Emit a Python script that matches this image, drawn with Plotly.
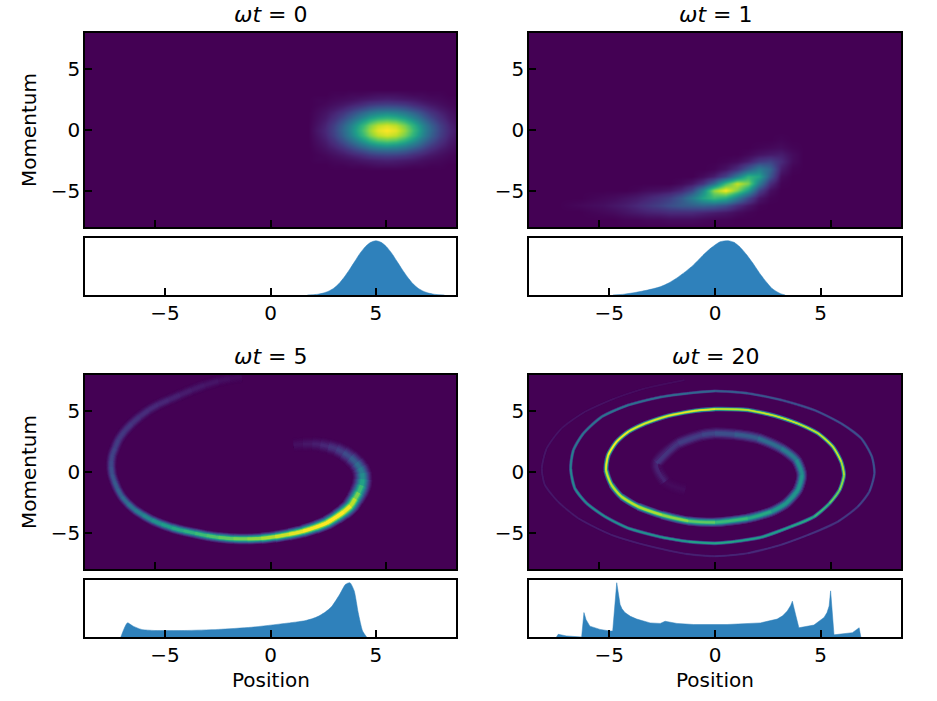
import numpy as np
import plotly.graph_objects as go
from plotly.colors import sample_colorscale

# ---------- values ----------
TITLES = ["0", "1", "5", "20"]
TICKS = [-5, 0, 5]

# panel wt=0: density grid (0-100)
G0_X0, G0_DX = 1.6, 0.38
G0_Y0, G0_DY = 3.36, -0.42
G0 = [
    [0]*19,
    [0,0,0,1,1,2,2,3,4,4,4,3,2,2,1,1,0,0,0],
    [0,1,1,2,3,4,6,7,8,9,8,7,6,4,3,2,1,1,0],
    [0,1,2,4,6,9,12,16,18,19,18,16,12,9,6,4,2,1,0],
    [0,2,4,7,11,17,23,29,33,34,33,29,23,17,11,7,4,2,0],
    [0,3,6,11,18,27,37,46,52,55,52,46,37,27,18,11,6,3,0],
    [0,4,8,15,25,37,51,64,73,76,73,64,51,37,25,15,8,4,0],
    [0,5,10,19,31,46,63,79,90,94,90,79,63,46,31,19,10,5,0],
    [0,6,11,20,33,49,67,84,96,100,96,84,67,49,33,20,11,6,0],
    [0,5,10,19,31,46,63,79,90,94,90,79,63,46,31,19,10,5,0],
    [0,4,8,15,25,37,51,64,73,76,73,64,51,37,25,15,8,4,0],
    [0,3,6,11,18,27,37,46,52,55,52,46,37,27,18,11,6,3,0],
    [0,2,4,7,11,17,23,29,33,34,33,29,23,17,11,7,4,2,0],
    [0,1,2,4,6,9,12,16,18,19,18,16,12,9,6,4,2,1,0],
    [0,1,1,2,3,4,6,7,8,9,8,7,6,4,3,2,1,1,0],
    [0,0,0,1,1,2,2,3,4,4,4,3,2,2,1,1,0,0,0],
    [0]*19,
]

# panel wt=1: density grid (0-100)
G1_X0, G1_DX = -6.75, 0.48
G1_Y0, G1_DY = -0.2, -0.6
G1 = [
    [0]*23,
    [0,0,0,0,0,0,0,0,0,0,0,0,0,0,0,0,0,0,0,0,1,0,0],
    [0,0,0,0,0,0,0,0,0,0,0,0,0,0,0,0,0,0,1,2,3,1,0],
    [0,0,0,0,0,0,0,0,0,0,0,0,0,0,0,0,0,2,5,7,8,3,0],
    [0,0,0,0,0,0,0,0,0,0,0,0,0,0,0,1,3,8,17,20,12,3,0],
    [0,0,0,0,0,0,0,0,0,0,0,0,0,0,1,5,13,28,42,32,8,1,0],
    [0,0,0,0,0,0,0,0,0,0,0,0,0,3,8,20,42,65,58,27,3,0,0],
    [0,0,0,0,0,0,0,0,0,0,0,2,6,15,35,68,92,80,42,13,1,0,0],
    [0,0,0,0,0,0,0,1,3,4,6,11,22,47,84,100,80,55,20,4,0,0,0],
    [0,0,0,1,2,3,5,7,10,14,19,28,42,58,68,62,42,22,6,1,0,0,0],
    [0,1,2,3,4,6,8,11,15,19,24,28,30,32,30,24,13,6,1,0,0,0,0],
    [0,0,0,1,2,3,5,7,9,10,12,12,12,10,8,6,3,1,0,0,0,0,0],
    [0,0,0,0,0,0,1,1,2,2,3,3,3,2,1,1,0,0,0,0,0,0,0],
    [0]*23,
]

# panel wt=5: ridge of the density band
R5_X = [1.0,1.4,1.8,2.15,2.5,2.85,3.15,3.45,3.7,3.85,3.95,3.97,3.93,3.8,3.65,3.45,3.15,2.85,2.42,1.95,1.4,0.8,0.2,
        -0.4,-1.0,-1.6,-2.25,-2.75,-3.25,-3.75,-4.26,-4.7,-5.12,-5.5,-5.84,-6.15,-6.41,-6.6,-6.73,-6.83,-6.87,-6.86,
        -6.82,-6.7,-6.56,-6.3,-5.98,-5.65,-5.26,-4.85,-4.4,-3.9,-3.4,-2.85,-2.25,-1.75,-1.25]
R5_P = [2.23,2.3,2.31,2.25,2.1,1.9,1.6,1.2,0.75,0.35,-0.1,-0.6,-1.1,-1.7,-2.2,-2.8,-3.3,-3.7,-4.2,-4.55,-4.88,-5.14,-5.34,
        -5.47,-5.52,-5.5,-5.39,-5.25,-5.05,-4.85,-4.59,-4.3,-3.96,-3.55,-3.13,-2.6,-2.03,-1.4,-0.8,-0.2,0.44,0.9,
        1.4,2.0,2.64,3.35,4.0,4.55,5.1,5.55,5.94,6.35,6.76,7.15,7.5,7.7,7.85]
R5_V = [3,5,7,9,12,16,20,26,32,38,44,52,62,74,85,95,100,100,100,100,98,94,90,
        85,81,77,73,70,66,62,57,53,48,44,40,36,32,29,27,25,23,21,
        20,19,17,16,15,13,12,11,10,8,7,6,5,3,2]

# panel wt=20: ridge of the spiral, from its inner end outwards
R20_X = [-1.28,-2.15,-2.51,-1.57,-0.56,0.0,0.84,1.85,2.85,3.5,3.74,3.56,3.06,2.42,1.41,0.0,
         -1.15,-2.29,-3.3,-4.02,-4.45,-4.69,-4.59,-4.23,-3.73,-3.01,-2.0,-0.85,0.0,1.41,2.56,3.56,4.43,5.07,5.43,5.55,
         5.36,4.93,4.27,3.27,2.0,0.84,0.0,-1.15,-2.29,-3.73,-4.73,-5.52,-6.03,-6.21,-6.09,-5.66,-4.87,-3.73,-2.29,-1.15,
         0.0,1.41,2.85,4.27,5.43,6.29,6.75,6.86,6.64,6.14,5.28,3.99,2.85,1.41,0.0,-1.28,-3.01,-4.45,-5.88,-6.75,-7.32,
         -7.45,-7.24,-6.6,-5.59,-4.3,-3.01,-1.32]
R20_P = [-1.48,-0.8,0.72,2.37,3.05,3.19,3.1,2.78,1.95,0.99,-0.25,-1.48,-2.58,-3.27,-3.82,-4.15,
         -4.04,-3.54,-2.86,-2.04,-1.07,0.16,1.4,2.5,3.32,4.0,4.64,5.05,5.19,5.11,4.64,4.0,3.19,2.09,0.85,-0.25,
         -1.48,-2.58,-3.68,-4.5,-5.38,-5.74,-5.88,-5.74,-5.38,-4.64,-3.68,-2.58,-1.35,0.3,1.81,3.19,4.56,5.52,6.2,6.49,
         6.68,6.49,5.94,5.11,4.0,2.78,1.26,-0.1,-1.62,-2.86,-4.1,-5.2,-6.0,-6.7,-6.95,-6.75,-6.02,-5.19,-3.82,-2.45,-1.07,
         0.3,1.95,3.6,4.97,6.08,6.9,7.58]
R20_V = [1,4,14,16,20,22,26,32,38,45,52,52,50,55,65,70,
         80,85,90,90,90,95,100,100,95,95,95,100,90,90,95,90,90,95,90,85,
         80,70,60,55,55,60,60,55,50,50,50,50,48,45,40,40,40,38,35,35,
         30,28,25,25,25,27,27,25,22,18,15,14,12,10,10,8,8,8,7,7,6,
         6,6,5,5,4,3,3]

# position histograms
H0_X = [1.75,2,2.25,2.5,2.75,3,3.25,3.5,3.75,4,4.25,4.5,4.75,5,5.25,5.5,5.75,6,6.25,6.5,6.75,7,7.25,7.5,7.75,8,8.25]
H0_Y = [0,0.005,0.015,0.035,0.07,0.125,0.21,0.33,0.47,0.62,0.77,0.89,0.97,1,0.97,0.89,0.77,0.62,0.47,0.33,0.21,
        0.125,0.07,0.035,0.015,0.005,0]
H1_X = [-4.83,-4.3,-3.72,-3.2,-2.6,-2.2,-1.82,-1.4,-1.03,-0.6,-0.24,0.24,0.63,0.9,1.19,1.5,1.82,2.15,2.45,2.7,2.93,3.1,3.32]
H1_Y = [0,0.015,0.05,0.09,0.15,0.22,0.31,0.43,0.55,0.72,0.85,0.98,1,0.97,0.88,0.74,0.57,0.38,0.23,0.12,0.06,0.025,0]
H5_X = [-7.1,-6.79,-6.52,-6.12,-5.49,-4.07,-2.48,-0.9,0.68,1.63,2.0,2.26,2.6,2.9,3.29,3.56,3.77,3.97,4.16,4.37,4.56]
H5_Y = [0,0.26,0.2,0.14,0.12,0.12,0.14,0.18,0.25,0.30,0.34,0.38,0.46,0.56,0.79,0.97,1,0.85,0.45,0.11,0]
H20_X = [-7.5,-7.42,-7.03,-6.31,-6.2,-6.1,-5.92,-5.44,-4.97,-4.84,-4.65,-4.55,-4.49,-4.4,-4.26,-4.0,-3.7,-3.07,-2.59,
         -2.36,-1.8,-1.01,0.57,2.15,2.94,3.2,3.42,3.58,3.66,3.81,3.97,4.68,5.16,5.3,5.4,5.47,5.55,5.63,6.5,6.82,6.9]
H20_Y = [0,0.05,0.02,0,0.45,0.32,0.2,0.14,0.11,0.11,1,0.75,0.6,0.52,0.45,0.38,0.33,0.26,0.25,
         0.29,0.25,0.23,0.23,0.26,0.33,0.39,0.48,0.58,0.66,0.42,0.17,0.22,0.36,0.45,0.57,0.85,0.42,0.04,0.08,0.17,0]

# ---------- layout / style ----------
W, H = 937, 701
BG = "#440154"
BLUE = "#2f81bb"
FONT = "DejaVu Sans"
COLS = [(85, 456), (529, 901)]
ROWS = [((33, 227), (238, 295)), ((375, 569), (580, 637))]
GLOW5 = [(1.0, 0.06), (0.9, 0.13), (0.8, 0.22), (0.7, 0.33), (0.6, 0.46), (0.5, 0.6), (0.4, 0.75), (0.3, 0.88), (0.2, 1.0)]
GLOW20 = [(1.0, 0.15), (0.8, 0.35), (0.6, 0.6), (0.4, 0.85), (0.25, 1.0)]


def colour(v):
    return sample_colorscale("Viridis", [min(max(v / 100.0, 0), 1)])[0]


def ribbon(fig, xs, ps, vs, widths, glow, ax, ay):
    """Draw a ridge as overlapping curved pieces through the read vertices."""
    for wf, cf in glow:
        for i in range(len(xs) - 1):
            j = min(i + 3, len(xs))
            fig.add_trace(go.Scatter(x=xs[i:j], y=ps[i:j], mode="lines", xaxis=ax, yaxis=ay,
                                     line=dict(color=colour(0.5 * (vs[i] + vs[i + 1]) * cf),
                                               width=max(widths[i] * wf, 0.8), shape="spline", smoothing=1.0),
                                     hoverinfo="skip"))


fig = go.Figure()
layout = {}
frame = dict(showline=True, linecolor="black", linewidth=1.7, mirror=True, zeroline=False, showgrid=False,
             ticks="inside", ticklen=7, tickwidth=1.5, tickcolor="black", ticklabelstandoff=-1,
             tickfont=dict(family=FONT, size=20, color="black"))

for n in range(4):
    r, c = n // 2, n % 2
    (xl, xr) = COLS[c]
    (top, hist) = ROWS[r]
    a, b = 2 * n + 1, 2 * n + 2
    layout[f"xaxis{a}"] = dict(frame, domain=[xl / W, xr / W], range=[-8, 8], anchor=f"y{a}",
                               tickvals=TICKS, showticklabels=False)
    layout[f"yaxis{a}"] = dict(frame, domain=[1 - top[1] / H, 1 - top[0] / H], range=[-8, 8], anchor=f"x{a}",
                               tickvals=TICKS, ticktext=["\u22125", "0", "5"])
    layout[f"xaxis{b}"] = dict(frame, domain=[xl / W, xr / W], range=[-8.8, 8.8], anchor=f"y{b}",
                               tickvals=TICKS, ticktext=["\u22125", "0", "5"])
    layout[f"yaxis{b}"] = dict(frame, domain=[1 - hist[1] / H, 1 - hist[0] / H], range=[0, 1.05], anchor=f"x{b}",
                               ticks="", showticklabels=False)

hm = dict(colorscale="Viridis", zmin=0, zmax=100, showscale=False, zsmooth="best", hoverinfo="skip")
fig.add_trace(go.Heatmap(z=G0, x0=G0_X0, dx=G0_DX, y0=G0_Y0, dy=G0_DY, xaxis="x1", yaxis="y1", **hm))
fig.add_trace(go.Heatmap(z=G1, x0=G1_X0, dx=G1_DX, y0=G1_Y0, dy=G1_DY, xaxis="x3", yaxis="y3", **hm))

n5 = len(R5_X)
w5 = list(np.interp(range(n5), [0, 11, 16, 22, 35, 45, n5 - 1], [14, 20, 15, 11, 10, 12, 12]))
ribbon(fig, R5_X, R5_P, R5_V, w5, GLOW5, "x5", "y5")
w20 = list(np.interp(range(len(R20_X)), [0, 15, 20, 36, 56, 83], [13, 9, 5, 4, 3, 2.2]))
ribbon(fig, R20_X, R20_P, R20_V, w20, GLOW20, "x7", "y7")

for n, (hx, hy, sh) in enumerate([(H0_X, H0_Y, "spline"), (H1_X, H1_Y, "spline"),
                                  (H5_X, H5_Y, "spline"), (H20_X, H20_Y, "linear")]):
    b = 2 * n + 2
    fig.add_trace(go.Scatter(x=hx, y=hy, mode="lines", fill="tozeroy", fillcolor=BLUE,
                             line=dict(color=BLUE, width=0.5, shape=sh, smoothing=0.6),
                             xaxis=f"x{b}", yaxis=f"y{b}", hoverinfo="skip"))

ann = []
for n, t in enumerate(TITLES):
    r, c = n // 2, n % 2
    cx = sum(COLS[c]) / 2
    ty = ROWS[r][0][0]
    ann.append(dict(text=f"<i>\u03c9t</i> = {t}", x=cx / W, y=1 - (ty - 4) / H, xref="paper", yref="paper",
                    xanchor="center", yanchor="bottom", showarrow=False,
                    font=dict(family=FONT, size=22, color="black")))
for r in range(2):
    cy = sum(ROWS[r][0]) / 2
    ann.append(dict(text="Momentum", x=29 / W, y=1 - cy / H, xref="paper", yref="paper", textangle=-90,
                    xanchor="center", yanchor="middle", showarrow=False,
                    font=dict(family=FONT, size=20, color="black")))
for c in range(2):
    ann.append(dict(text="Position", x=sum(COLS[c]) / 2 / W, y=1 - 680 / H, xref="paper", yref="paper",
                    xanchor="center", yanchor="middle", showarrow=False,
                    font=dict(family=FONT, size=20, color="black")))

fig.update_layout(width=W, height=H, margin=dict(l=0, r=0, t=0, b=0), paper_bgcolor="white",
                  plot_bgcolor="white", showlegend=False, annotations=ann, **layout)
for a in (1, 3, 5, 7):
    fig.add_shape(type="rect", xref=f"x{a}", yref=f"y{a}", x0=-8, x1=8, y0=-8, y1=8,
                  fillcolor=BG, line_width=0, layer="below")

fig.write_html("out.html", config={"displayModeBar": False},
               post_script="document.body.style.margin='0';document.body.style.overflow='hidden';")
